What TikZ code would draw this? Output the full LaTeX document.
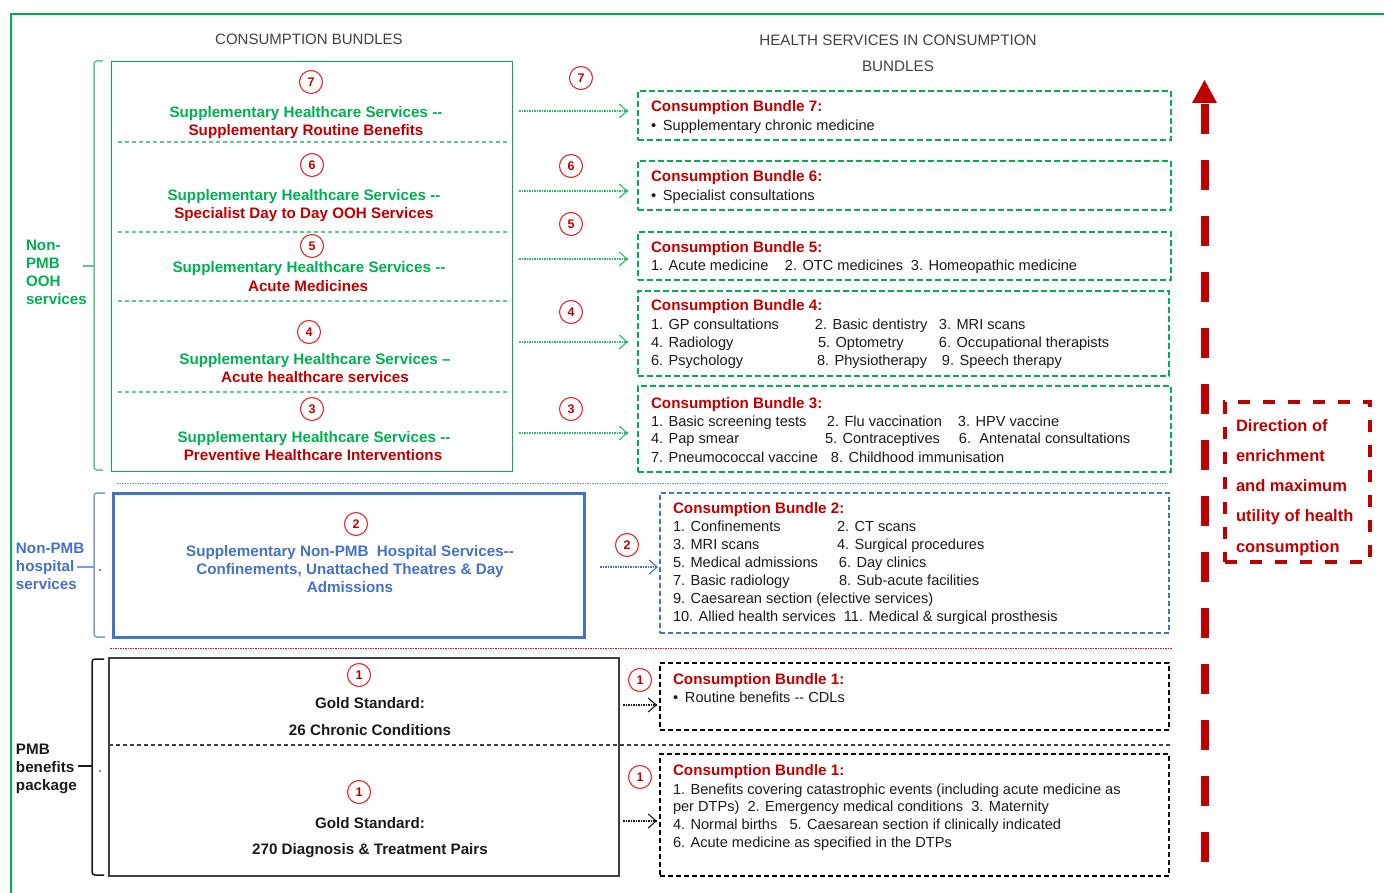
\documentclass[tikz,border=0pt]{standalone}
\usepackage{fontspec}
\setmainfont{Liberation Sans}
\usetikzlibrary{arrows.meta,calc}
\definecolor{cgreen}{HTML}{00B050}
\definecolor{lgreen}{HTML}{5CCB8A}
\definecolor{cred}{HTML}{C00000}
\definecolor{cred2}{HTML}{E02B2B}
\definecolor{cblue}{HTML}{4472C4}
\definecolor{cgray}{HTML}{404040}
\definecolor{ctext}{HTML}{1A1A1A}
\newcommand\dd{-\kern0pt-}
\newcommand\fsz{\fontsize{14.6}{18}\selectfont}
\newcommand\fbz{\fontsize{15.2}{18}\selectfont\bfseries}
\newcommand\tline[4][]{\node[tl,#1] (#2) at #3 {#4};}
\begin{document}
\begin{tikzpicture}[x=1pt,y=-1pt,
  every node/.style={inner sep=0pt, outer sep=0pt, font=\fsz},
  tl/.style={anchor=base west, text=ctext},
  tc/.style={anchor=base},
  bt/.style={font=\fbz},
  ttl/.style={tl, font=\fbz, text=cred},
  numc/.style={circle, draw=cred2, line width=1.1pt, minimum size=23pt, font=\fontsize{12.5}{12}\selectfont\bfseries, text=cred},
  gbox/.style={draw=cgreen, line width=2pt, dash pattern=on 6pt off 3pt},
  bbox/.style={draw=cblue, line width=1.6pt, dash pattern=on 5pt off 3pt},
  kbox/.style={draw=black, line width=1.8pt, dash pattern=on 5pt off 3pt},
  garr/.style={draw=cgreen!85, line width=1.1pt, dash pattern=on 1.5pt off 1pt, -{Straight Barb[length=8pt,width=14pt,line width=1.1pt]}},
  barr/.style={draw=cblue, line width=1.1pt, dash pattern=on 1.5pt off 1pt, -{Straight Barb[length=8pt,width=14pt,line width=1.1pt]}},
  karr/.style={draw=ctext, line width=1.1pt, dash pattern=on 1.5pt off 1pt, -{Straight Barb[length=8pt,width=14pt,line width=1.1pt]}},
  brk/.style={line width=1.5pt, rounded corners=3pt},
  gdiv/.style={draw=lgreen, line width=1.3pt, dash pattern=on 4pt off 3pt}
]
\useasboundingbox (0,0) rectangle (1384,893);
% outer frame
\draw[cgreen, line width=2pt] (11,893) -- (11,14) -- (1384,14);

% headers
\node[tc,text=cgray,font=\fontsize{15}{18}\selectfont] (hA) at (309,45) {CONSUMPTION BUNDLES};
\node[tc,text=cgray,font=\fontsize{15.2}{18}\selectfont] (hB) at (898,46) {HEALTH SERVICES IN CONSUMPTION};
\node[tc,text=cgray,font=\fontsize{15.2}{18}\selectfont] (hC) at (898,72) {BUNDLES};

% ---------------- Non-PMB OOH ----------------
\node[draw=cgreen, line width=0.9pt, minimum width=401pt, minimum height=410pt] (lbox) at (311.5,266) {};
\draw[gdiv] (118,142) -- (510,142);
\draw[gdiv] (118,232) -- (510,232);
\draw[gdiv] (118,301) -- (510,301);
\draw[gdiv] (118,392) -- (510,392);

\node[numc] (c7) at (311,82) {7};
\node[tc,bt,text=cgreen] (s7a) at (306,118) {Supplementary Healthcare Services \dd};
\node[tc,bt,text=cred] (s7b) at (306,136) {Supplementary Routine Benefits};
\node[numc] (c6) at (312,165) {6};
\node[tc,bt,text=cgreen] (s6a) at (304,201) {Supplementary Healthcare Services \dd};
\node[tc,bt,text=cred] (s6b) at (304,219) {Specialist Day to Day OOH Services};
\node[numc] (c5) at (312,246) {5};
\node[tc,bt,text=cgreen] (s5a) at (309,273) {Supplementary Healthcare Services \dd};
\node[tc,bt,text=cred] (s5b) at (308,291) {Acute Medicines};
\node[numc] (c4) at (309,332) {4};
\node[tc,bt,text=cgreen] (s4a) at (315,364) {Supplementary Healthcare Services –};
\node[tc,bt,text=cred] (s4b) at (315,382) {Acute healthcare services};
\node[numc] (c3) at (312,409) {3};
\node[tc,bt,text=cgreen] (s3a) at (314,442) {Supplementary Healthcare Services \dd};
\node[tc,bt,text=cred] (s3b) at (313,460) {Preventive Healthcare Interventions};

% bracket + label
\draw[brk, lgreen] (103,61) -- (94,61) -- (94,470) -- (103,470);
\draw[lgreen, line width=1.5pt] (83,266) -- (94,266);
\tline[bt,text=cgreen]{gl1}{(26,251)}{Non-}
\tline[bt,text=cgreen]{gl2}{(26,269)}{PMB}
\tline[bt,text=cgreen]{gl3}{(26,287)}{OOH}
\tline[bt,text=cgreen]{gl4}{(26,305)}{services}

% right green boxes
\node[gbox, minimum width=533pt, minimum height=49pt] (B7) at (904.5,115.5) {};
\node[gbox, minimum width=533pt, minimum height=49pt] (B6) at (904.5,185.5) {};
\node[gbox, minimum width=533pt, minimum height=48pt] (B5) at (904.5,256) {};
\node[gbox, minimum width=531pt, minimum height=85pt] (B4) at (903.5,333.5) {};
\node[gbox, minimum width=533pt, minimum height=86pt] (B3) at (904.5,429) {};

\tline[ttl]{b7t}{(651,112)}{Consumption Bundle 7:}
\tline{b7a}{(651,131)}{\makebox[12pt][l]{•}Supplementary chronic medicine}
\tline[ttl]{b6t}{(651,182)}{Consumption Bundle 6:}
\tline{b6a}{(651,201)}{\makebox[12pt][l]{•}Specialist consultations}
\tline[ttl]{b5t}{(651,253)}{Consumption Bundle 5:}
\tline{b5a}{(651,271)}{\makebox[134pt][l]{1. Acute medicine}\makebox[126pt][l]{2. OTC medicines}3. Homeopathic medicine}
\tline[ttl]{b4t}{(651,311)}{Consumption Bundle 4:}
\tline{b4a}{(651,330)}{\makebox[164pt][l]{1. GP consultations}\makebox[124pt][l]{2. Basic dentistry}3. MRI scans}
\tline{b4b}{(651,347)}{\makebox[167pt][l]{4. Radiology}\makebox[121pt][l]{5. Optometry}6. Occupational therapists}
\tline{b4c}{(651,365)}{\makebox[166pt][l]{6. Psychology}\makebox[125pt][l]{8. Physiotherapy}9. Speech therapy}
\tline[ttl]{b3t}{(651,408)}{Consumption Bundle 3:}
\tline{b3a}{(651,426)}{\makebox[176pt][l]{1. Basic screening tests}\makebox[131pt][l]{2. Flu vaccination}3. HPV vaccine}
\tline{b3b}{(651,443)}{\makebox[174pt][l]{4. Pap smear}\makebox[134pt][l]{5. Contraceptives}6.\ \ Antenatal consultations}
\tline{b3c}{(651,462)}{\makebox[180pt][l]{7. Pneumococcal vaccine}8. Childhood immunisation}

\node[numc] (m7) at (581,78) {7};
\node[numc] (m6) at (571,166) {6};
\node[numc] (m5) at (571,224) {5};
\node[numc] (m4) at (571,312) {4};
\node[numc] (m3) at (571,409) {3};

\draw[garr] ($(lbox.east |- B7.west)+(7,-4.5)$) -- ($(B7.west)+(-10,-4.5)$);
\draw[garr] ($(lbox.east |- B6.west)+(7,5.5)$) -- ($(B6.west)+(-10,5.5)$);
\draw[garr] ($(lbox.east |- B5.west)+(7,3)$) -- ($(B5.west)+(-10,3)$);
\draw[garr] ($(lbox.east |- B4.west)+(7,8.5)$) -- ($(B4.west)+(-10,8.5)$);
\draw[garr] ($(lbox.east |- B3.west)+(7,4)$) -- ($(B3.west)+(-10,4)$);

% separator
\draw[cblue!80, line width=1pt, dash pattern=on 1.5pt off 1pt] (117,483) -- (1168,483);

% ---------------- Non-PMB hospital ----------------
\node[draw=cblue, line width=3pt, minimum width=471pt, minimum height=144pt] (hbox) at (348.5,565) {};
\node[numc] (c2) at (356,524) {2};
\node[tc,bt,text=cblue] (h2a) at (350,556) {Supplementary Non-PMB\ \ Hospital Services\dd};
\node[tc,bt,text=cblue] (h2b) at (350,574) {Confinements, Unattached Theatres \& Day};
\node[tc,bt,text=cblue] (h2c) at (350,592) {Admissions};
\draw[brk, cblue!70] (105,493) -- (94,493) -- (94,637) -- (105,637);
\draw[cblue!70, line width=1.5pt] (77,567) -- (94,567);
\fill[ctext] (100,570) circle (0.8pt);
\tline[bt,text=cblue]{bl1}{(16,553)}{Non-PMB}
\tline[bt,text=cblue]{bl2}{(16,571)}{hospital}
\tline[bt,text=cblue]{bl3}{(16,589)}{services}

\node[bbox, minimum width=509pt, minimum height=140pt] (B2) at (914.5,563) {};
\node[numc] (m2) at (627,545) {2};
\tline[ttl]{b2t}{(673,513)}{Consumption Bundle 2:}
\tline{b2a}{(673,531)}{\makebox[164pt][l]{1. Confinements}2. CT scans}
\tline{b2b}{(673,549)}{\makebox[164pt][l]{3. MRI scans}4. Surgical procedures}
\tline{b2c}{(673,567)}{\makebox[166pt][l]{5. Medical admissions}6. Day clinics}
\tline{b2d}{(673,585)}{\makebox[166pt][l]{7. Basic radiology}8. Sub-acute facilities}
\tline{b2e}{(673,603)}{9. Caesarean section (elective services)}
\tline{b2f}{(673,621)}{10. Allied health services\ \ 11. Medical \& surgical prosthesis}
\draw[barr] ($(hbox.east |- B2.west)+(16,4)$) -- ($(B2.west)+(-2,4)$);

% separator
\draw[red, line width=1pt, dash pattern=on 1.5pt off 1pt] (110,648) -- (1172,648);

% ---------------- PMB ----------------
\node[draw=cgray, line width=1.2pt, minimum width=510pt, minimum height=218pt] (pbox) at (364,767) {};
\draw[cgray, line width=1.1pt, dash pattern=on 4pt off 3pt] (109,745) -- (1170,745);
\node[numc] (c1a) at (359,675) {1};
\node[tc,bt,text=ctext] (p1a) at (370,708) {Gold Standard:};
\node[tc,bt,text=ctext] (p1b) at (370,735) {26 Chronic Conditions};
\node[numc] (c1b) at (359,792) {1};
\node[tc,bt,text=ctext] (p2a) at (370,828) {Gold Standard:};
\node[tc,bt,text=ctext] (p2b) at (370,854) {270 Diagnosis \& Treatment Pairs};
\draw[brk, ctext] (104,659) -- (92,659) -- (92,875) -- (104,875);
\draw[ctext, line width=1.5pt] (78,766) -- (92,766);
\fill[ctext] (100,771) circle (0.8pt);
\tline[bt,text=ctext]{kl1}{(16,754)}{PMB}
\tline[bt,text=ctext]{kl2}{(16,772)}{benefits}
\tline[bt,text=ctext]{kl3}{(16,790)}{package}

\node[kbox, minimum width=509pt, minimum height=67pt] (B1a) at (914.5,696.5) {};
\node[kbox, minimum width=509pt, minimum height=122pt] (B1b) at (914.5,815) {};
\node[numc] (m1a) at (640,680) {1};
\node[numc] (m1b) at (640,777) {1};
\tline[ttl]{b1t}{(673,684)}{Consumption Bundle 1:}
\tline{b1a}{(673,702)}{\makebox[12pt][l]{•}Routine benefits \dd{} CDLs}
\tline[ttl]{b0t}{(673,775)}{Consumption Bundle 1:}
\tline{b0a}{(673,794)}{1. Benefits covering catastrophic events (including acute medicine as}
\tline{b0b}{(673,811)}{per DTPs)\ \ 2. Emergency medical conditions\ \ 3. Maternity}
\tline{b0c}{(673,829)}{4. Normal births\ \ \ 5. Caesarean section if clinically indicated}
\tline{b0d}{(673,847)}{6. Acute medicine as specified in the DTPs}
\draw[karr] ($(pbox.east |- B1a.west)+(4,8.5)$) -- ($(B1a.west)+(-3,8.5)$);
\draw[karr] ($(pbox.east |- B1b.west)+(4,6)$) -- ($(B1b.west)+(-3,6)$);

% ---------------- direction arrow ----------------
\coordinate (aB) at (1204.5,862);
\coordinate (aT) at (1204.5,103);
\coordinate (aTip) at (1204.5,80);
\draw[cred, line width=8pt, dash pattern=on 30pt off 26pt] (aB) -- (aT);
\fill[cred] ($(aT)+(-12.5,0)$) -- ($(aT)+(12.5,0)$) -- (aTip) -- cycle;

\node[draw=cred, line width=3.5pt, dash pattern=on 12pt off 13pt, minimum width=145pt, minimum height=160pt] (dir) at (1297.5,482) {};
\tline[font=\fontsize{16.5}{20}\selectfont\bfseries, text=cred]{d1}{(1236,431)}{Direction of}
\tline[font=\fontsize{16.5}{20}\selectfont\bfseries, text=cred]{d2}{(1236,461)}{enrichment}
\tline[font=\fontsize{16.5}{20}\selectfont\bfseries, text=cred]{d3}{(1236,491)}{and maximum}
\tline[font=\fontsize{16.5}{20}\selectfont\bfseries, text=cred]{d4}{(1236,521)}{utility of health}
\tline[font=\fontsize{16.5}{20}\selectfont\bfseries, text=cred]{d5}{(1236,552)}{consumption}
\end{tikzpicture}
\end{document}
